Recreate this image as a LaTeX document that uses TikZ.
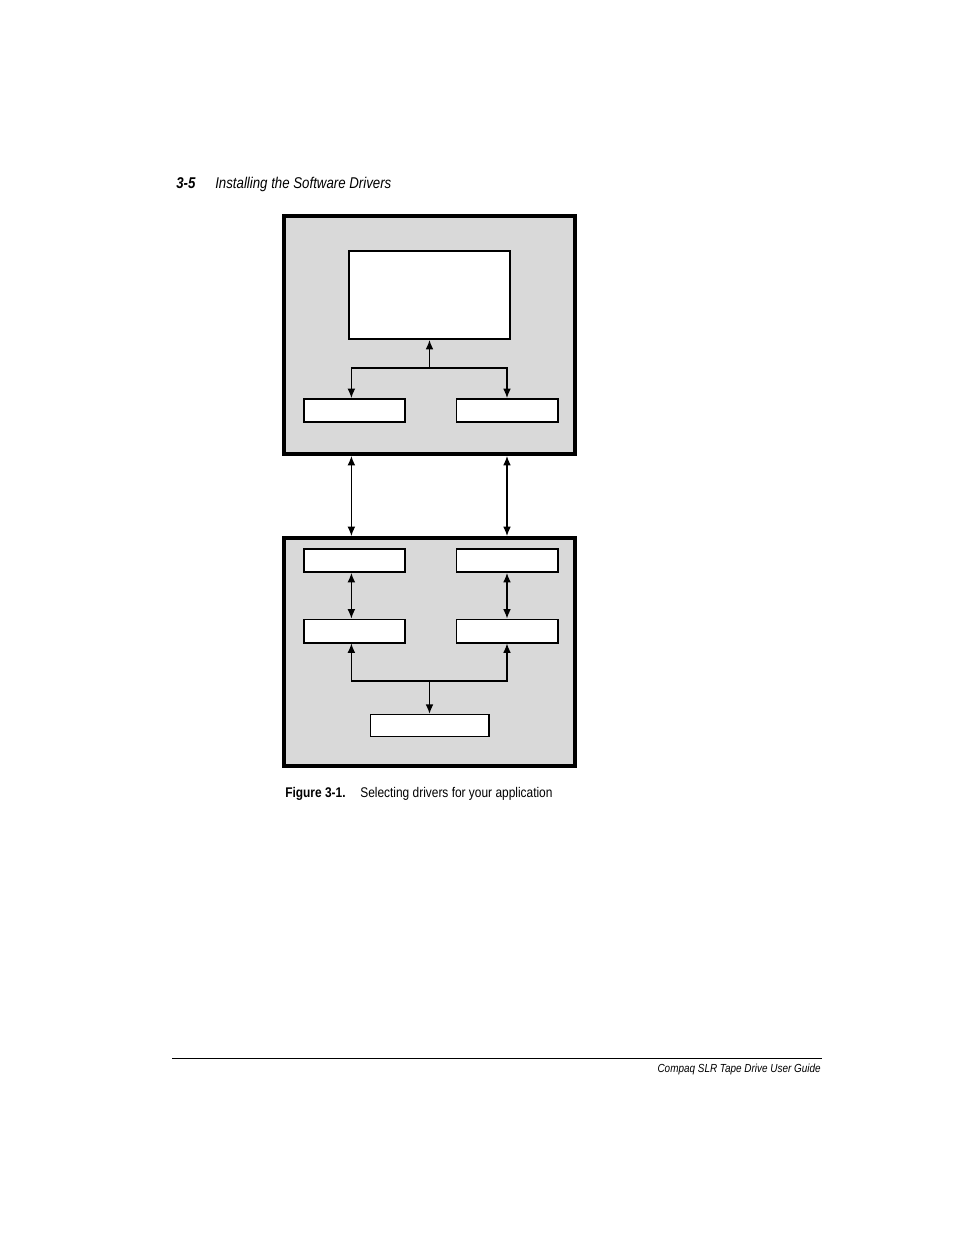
\documentclass[tikz,border=0pt]{standalone}
\usepackage{fontspec}
\setmainfont[FakeStretch=0.85]{Liberation Sans}
\usetikzlibrary{arrows.meta}
\definecolor{panel}{HTML}{D9D9D9}
\tikzset{
  px/.style={x=0.6415pt,y=-0.6415pt},
  panelbox/.style={draw,line width=2.3pt,fill=panel,inner sep=0pt},
  drvbox/.style={draw,line width=1.2pt,fill=white,inner sep=0pt,
    minimum width={103*0.6415pt-1.2pt},minimum height={25*0.6415pt-1.2pt}},
  arr/.style={-{Latex[length=6pt,width=5pt]},line width=0.8pt},
  dbl/.style={{Latex[length=6pt,width=5pt]}-{Latex[length=6pt,width=5pt]},line width=0.8pt}
}
\begin{document}
\begin{tikzpicture}[px]
\useasboundingbox (0,0) rectangle (954,1235);

% page header
\node[anchor=base west,font=\bfseries\itshape\fontsize{10}{12}\selectfont,inner sep=0pt] (pgno) at (176,188) {3-5};
\node[anchor=base west,font=\itshape\fontsize{10}{12}\selectfont,inner sep=0pt] (title) at (215,188) {Installing the Software Drivers};

% host panel
\node[panelbox,minimum width={295*0.6415pt-2.3pt},minimum height={242*0.6415pt-2.3pt}] (host) at (429.5,335) {};
\node[draw,line width=1.3pt,fill=white,inner sep=0pt,minimum width={163*0.6415pt-1.3pt},minimum height={90*0.6415pt-1.3pt}] (app) at (429.5,295) {};
\node[drvbox] (drvA) at (354.5,410.5) {};
\node[drvbox] (drvB) at (507,410.5) {};
\coordinate (jtop) at (429.5,368);
\draw[arr] (jtop) -- (app.south);
\draw[arr] (jtop) -| ([xshift=-2pt]drvA.north);
\draw[arr] (jtop) -| (drvB.north);

% target panel
\node[panelbox,minimum width={295*0.6415pt-2.3pt},minimum height={232*0.6415pt-2.3pt}] (target) at (429.5,652) {};
\node[drvbox] (ifA) at (354.5,560.5) {};
\node[drvbox] (ifB) at (507,560.5) {};
\node[drvbox] (ctlA) at (354.5,631) {};
\node[drvbox] (ctlB) at (507,631) {};
\node[draw,line width=0.7pt,fill=white,inner sep=0pt,minimum width={120*0.6415pt-0.7pt},minimum height={23.5*0.6415pt-0.7pt}] (dev) at (429.5,725.5) {};

% links between panels
\draw[dbl] ([xshift=-2pt]drvA.south |- host.south) -- ([xshift=-2pt]drvA.south |- target.north);
\draw[dbl] (drvB.south |- host.south) -- (drvB.south |- target.north);
\draw[dbl] ([xshift=-2pt]ifA.south) -- ([xshift=-2pt]ctlA.north);
\draw[dbl] (ifB.south) -- (ctlB.north);
\coordinate (jbot) at (429.5,681);
\draw[arr] (jbot) -- (dev.north);
\draw[arr] (jbot) -| ([xshift=-2pt]ctlA.south);
\draw[arr] (jbot) -| (ctlB.south);

% caption
\node[anchor=base west,font=\bfseries\fontsize{9}{11}\selectfont,inner sep=0pt] (figno) at (285,797) {Figure 3-1.};
\node[anchor=base west,font=\fontsize{9}{11}\selectfont,inner sep=0pt] (caption) at (360,797) {Selecting drivers for your application};

% page footer
\coordinate (ruleL) at (172,1058);
\coordinate (ruleR) at (822,1058);
\draw[line width=0.6pt] (ruleL) -- (ruleR);
\node[anchor=base east,font=\itshape\fontsize{7.5}{9}\selectfont,inner sep=0pt] (guide) at (821,1072) {Compaq SLR Tape Drive User Guide};
\end{tikzpicture}
\end{document}
